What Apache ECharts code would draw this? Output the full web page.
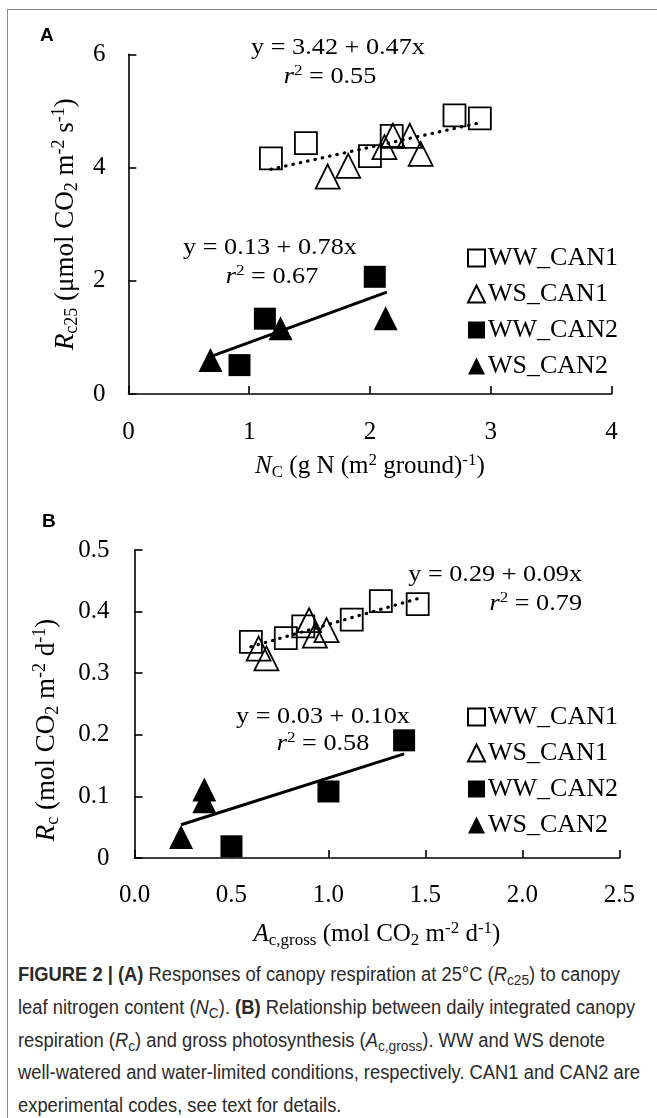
<!DOCTYPE html>
<html><head><meta charset="utf-8">
<script src="https://cdn.jsdelivr.net/npm/echarts@6/dist/echarts.min.js"></script>
<style>
html,body{margin:0;padding:0;background:#fff;}
#wrap{position:relative;width:657px;height:1118px;overflow:hidden;background:#fff;}
#frame{position:absolute;left:7px;top:9px;width:700px;height:1200px;border-left:1.5px solid #888;border-top:1.5px solid #888;}
#chart{position:absolute;left:0;top:0;width:657px;height:950px;}
#cap{position:absolute;left:18px;top:958px;font-family:"Liberation Sans",Arial,sans-serif;font-size:20px;line-height:32.8px;color:#2a2a2a;transform-origin:0 0;white-space:nowrap;}
#cap sub{font-size:15px;line-height:0;vertical-align:-4px;}
</style></head>
<body>
<div id="wrap">
<div id="frame"></div>
<div id="chart"></div>
<div id="cap">
<div><b>FIGURE 2 | (A)</b> Responses of canopy respiration at 25°C (<i>R</i><sub>c25</sub>) to canopy</div>
<div>leaf nitrogen content (<i>N</i><sub>C</sub>). <b>(B)</b> Relationship between daily integrated canopy</div>
<div>respiration (<i>R</i><sub>c</sub>) and gross photosynthesis (<i>A</i><sub>c,gross</sub>). WW and WS denote</div>
<div id="capref">well-watered and water-limited conditions, respectively. CAN1 and CAN2 are</div>
<div>experimental codes, see text for details.</div>
</div>
</div>
<script>
// ---------- Panel A data: Nc (x) vs Rc25 (y) ----------
const seriesNames = ['WW_CAN1', 'WS_CAN1', 'WW_CAN2', 'WS_CAN2'];
const A_WW_CAN1_x = [1.18, 1.47, 2.00, 2.18, 2.70, 2.91];
const A_WW_CAN1_y = [4.16, 4.43, 4.20, 4.56, 4.92, 4.87];
const A_WS_CAN1_x = [1.65, 1.82, 2.12, 2.19, 2.33, 2.42];
const A_WS_CAN1_y = [3.84, 4.03, 4.36, 4.56, 4.56, 4.24];
const A_WW_CAN2_x = [0.92, 1.13, 2.04];
const A_WW_CAN2_y = [0.51, 1.33, 2.07];
const A_WS_CAN2_x = [0.68, 1.26, 2.13];
const A_WS_CAN2_y = [0.60, 1.16, 1.34];
const A_fitCAN1_x = [1.18, 2.91];
const A_fitCAN1_y = [3.97, 4.79];
const A_fitCAN2_x = [0.68, 2.14];
const A_fitCAN2_y = [0.66, 1.80];
const A_xTicks = [0, 1, 2, 3, 4];
const A_yTicks = [0, 2, 4, 6];

// ---------- Panel B data: Ac,gross (x) vs Rc (y) ----------
const B_WW_CAN1_x = [0.60, 0.78, 0.87, 1.12, 1.27, 1.46];
const B_WW_CAN1_y = [0.351, 0.357, 0.376, 0.387, 0.417, 0.412];
const B_WS_CAN1_x = [0.64, 0.68, 0.90, 0.93, 0.99];
const B_WS_CAN1_y = [0.340, 0.324, 0.386, 0.361, 0.370];
const B_WW_CAN2_x = [0.50, 1.00, 1.39];
const B_WW_CAN2_y = [0.019, 0.108, 0.191];
const B_WS_CAN2_x = [0.24, 0.36, 0.36];
const B_WS_CAN2_y = [0.034, 0.092, 0.111];
const B_fitCAN1_x = [0.60, 1.46];
const B_fitCAN1_y = [0.343, 0.421];
const B_fitCAN2_x = [0.24, 1.39];
const B_fitCAN2_y = [0.054, 0.169];
const B_xTicks = [0, 0.5, 1.0, 1.5, 2.0, 2.5];
const B_yTicks = [0, 0.1, 0.2, 0.3, 0.4, 0.5];

const eqA1 = ['y = 3.42 + 0.47x', '0.55'];
const eqA2 = ['y = 0.13 + 0.78x', '0.67'];
const eqB1 = ['y = 0.29 + 0.09x', '0.79'];
const eqB2 = ['y = 0.03 + 0.10x', '0.58'];

// caption: compress horizontally like the condensed face of the reference
(function () {
  const cap = document.getElementById('cap');
  const ref = document.getElementById('capref');
  const w = ref.getBoundingClientRect().width;
  cap.style.transform = 'scaleX(' + (622 / w) + ')';
})();

const zip = (xs, ys) => xs.map((x, i) => [x, ys[i]]);
const SERIF = 'Liberation Serif';
const FS = 25;
function rich(fs) {
  const s = Math.round(fs * 0.66);
  return {
    n: {fontFamily: SERIF, fontSize: fs, lineHeight: fs + 4, color: '#000'},
    i: {fontFamily: SERIF, fontSize: fs, lineHeight: fs + 4, fontStyle: 'italic', color: '#000'},
    sub: {fontFamily: SERIF, fontSize: s, lineHeight: s, verticalAlign: 'bottom', color: '#000'},
    sup: {fontFamily: SERIF, fontSize: s, lineHeight: s, verticalAlign: 'top', color: '#000'}
  };
}

const openStyle = {color: 'rgba(0,0,0,0)', borderColor: '#000', borderWidth: 1.8, opacity: 1};
const fillStyle = {color: '#000', borderColor: '#000', borderWidth: 0, opacity: 1};
const symbols = {WW_CAN1: 'rect', WS_CAN1: 'triangle', WW_CAN2: 'rect', WS_CAN2: 'triangle'};
const styles = {WW_CAN1: openStyle, WS_CAN1: openStyle, WW_CAN2: fillStyle, WS_CAN2: fillStyle};
const sizes = {WW_CAN1: 22, WS_CAN1: 24, WW_CAN2: 22, WS_CAN2: 24};

function scatter(name, idx, data) {
  return {type: 'scatter', name, xAxisIndex: idx, yAxisIndex: idx, data,
    symbol: symbols[name], symbolSize: sizes[name], itemStyle: styles[name], z: 3,
    emphasis: {disabled: true}};
}
function fit(idx, xs, ys, dotted) {
  return {type: 'line', xAxisIndex: idx, yAxisIndex: idx, data: zip(xs, ys), symbol: 'none', z: 2,
    lineStyle: dotted ? {color: '#000', width: 3.2, type: [0.5, 7], cap: 'round'} : {color: '#000', width: 3},
    silent: true, emphasis: {disabled: true}};
}
function axisCommon(ticks, fmt, margin) {
  return {
    min: ticks[0], max: ticks[ticks.length - 1], interval: ticks[1] - ticks[0],
    splitLine: {show: false},
    axisLine: {show: true, lineStyle: {color: '#000', width: 1.6}},
    axisTick: {show: true, inside: true, length: 8, lineStyle: {color: '#000', width: 1.6}},
    axisLabel: {fontFamily: SERIF, fontSize: FS, color: '#000', margin, formatter: fmt}
  };
}
const fmtInt = v => String(Math.round(v));
const fmtY = v => v === 0 ? '0' : v.toFixed(1);
const fmtX = v => v.toFixed(1);

function legend(top) {
  return {orient: 'vertical', left: 462, top, itemWidth: 17, itemHeight: 17, itemGap: 10,
    selectedMode: false, data: seriesNames,
    textStyle: {fontFamily: SERIF, fontSize: 26, color: '#000', padding: [0, 0, 0, -2]}};
}
const eqRich = rich(23);
function eqText(x, y, s, align) {
  return {type: 'text', x, y, scaleX: 1.14,
    style: {text: s, rich: eqRich, align: align || 'center', verticalAlign: 'middle'}};
}
function r2(v) { return '{i|r}{sup|2}{n| = ' + v + '}'; }
function plain(v) { return '{n|' + v + '}'; }

const chart = echarts.init(document.getElementById('chart'), null, {renderer: 'canvas'});
chart.setOption({
  animation: false,
  backgroundColor: 'transparent',
  grid: [
    {left: 128.4, top: 54.3, width: 483.1, height: 339.7},
    {left: 134.5, top: 550, width: 484.9, height: 315}
  ],
  xAxis: [
    Object.assign(axisCommon(A_xTicks, fmtInt, 26), {gridIndex: 0, type: 'value',
      name: '{i|N}{sub|C}{n| (g N (m}{sup|2}{n| ground)}{sup|-1}{n|)}',
      nameLocation: 'middle', nameGap: 58, nameTextStyle: {rich: rich(25)}}),
    Object.assign(axisCommon(B_xTicks, fmtX, 25), {gridIndex: 1, type: 'value',
      name: '{i|A}{sub|c,gross}{n| (mol CO}{sub|2}{n| m}{sup|-2}{n| d}{sup|-1}{n|)}',
      nameLocation: 'middle', nameGap: 62, nameTextStyle: {rich: rich(25)}})
  ],
  yAxis: [
    Object.assign(axisCommon(A_yTicks, fmtInt, 23), {gridIndex: 0, type: 'value',
      name: '{i|R}{sub|c25}{n| (μmol CO}{sub|2}{n| m}{sup|-2}{n| s}{sup|-1}{n|)}',
      nameLocation: 'middle', nameGap: 47, nameRotate: 90, nameTextStyle: {rich: rich(27)}}),
    Object.assign(axisCommon(B_yTicks, fmtY, 25), {gridIndex: 1, type: 'value',
      name: '{i|R}{sub|c}{n| (mol CO}{sub|2}{n| m}{sup|-2}{n| d}{sup|-1}{n|)}',
      nameLocation: 'middle', nameGap: 72, nameRotate: 90,
      nameTextStyle: {rich: rich(27), padding: [0, 52, 0, 0]}})
  ],
  legend: [legend(240), legend(699)],
  series: [
    fit(0, A_fitCAN1_x, A_fitCAN1_y, true),
    fit(0, A_fitCAN2_x, A_fitCAN2_y, false),
    scatter('WW_CAN1', 0, zip(A_WW_CAN1_x, A_WW_CAN1_y)),
    scatter('WS_CAN1', 0, zip(A_WS_CAN1_x, A_WS_CAN1_y)),
    scatter('WW_CAN2', 0, zip(A_WW_CAN2_x, A_WW_CAN2_y)),
    scatter('WS_CAN2', 0, zip(A_WS_CAN2_x, A_WS_CAN2_y)),
    fit(1, B_fitCAN1_x, B_fitCAN1_y, true),
    fit(1, B_fitCAN2_x, B_fitCAN2_y, false),
    scatter('WW_CAN1', 1, zip(B_WW_CAN1_x, B_WW_CAN1_y)),
    scatter('WS_CAN1', 1, zip(B_WS_CAN1_x, B_WS_CAN1_y)),
    scatter('WW_CAN2', 1, zip(B_WW_CAN2_x, B_WW_CAN2_y)),
    scatter('WS_CAN2', 1, zip(B_WS_CAN2_x, B_WS_CAN2_y))
  ],
  graphic: [
    {type: 'text', x: 40, y: 26, style: {text: 'A', font: 'bold 19px "Liberation Sans"', fill: '#000'}},
    {type: 'text', x: 42, y: 512, style: {text: 'B', font: 'bold 19px "Liberation Sans"', fill: '#000'}},
    eqText(338, 48, plain(eqA1[0])), eqText(330, 77, r2(eqA1[1])),
    eqText(270, 248, plain(eqA2[0])), eqText(272, 277, r2(eqA2[1])),
    eqText(582, 575, plain(eqB1[0]), 'right'), eqText(582, 604, r2(eqB1[1]), 'right'),
    eqText(323, 717, plain(eqB2[0])), eqText(323, 744, r2(eqB2[1]))
  ]
});
</script>
</body></html>
